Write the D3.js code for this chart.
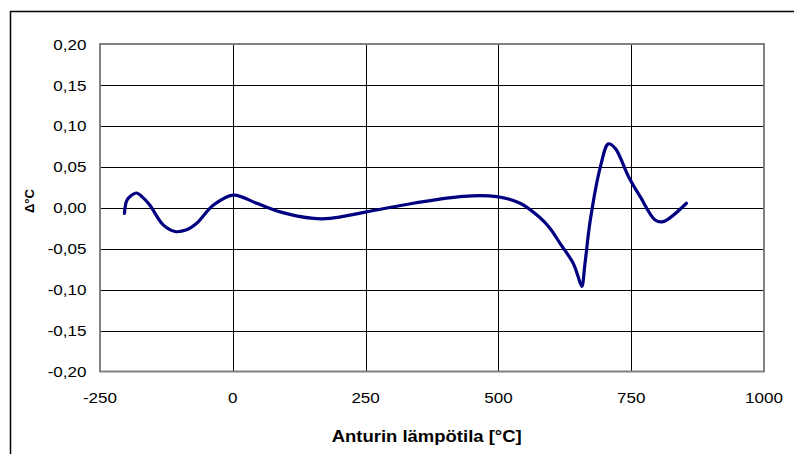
<!DOCTYPE html>
<html lang="fi">
<head>
<meta charset="UTF-8">
<title>Anturin lämpötila</title>
<style>
  body { margin: 0; background: #fff; }
  svg text { font-family: "Liberation Sans", Arial, sans-serif; fill: #000; }
  .tick-label { font-size: 15.5px; }
  .title { font-weight: bold; }
</style>
</head>
<body>
<div id="chart"></div>
<script src="https://d3js.org/d3.v7.min.js"></script>
<script>
// Curve: sensor temperature [°C] and deviation [°C]
const temps = [-204, -200, -193, -181, -170, -156, -131, -109, -87, -68, -37, 1, 45, 89,
               152, 183, 252, 340, 434, 497, 541, 578, 597, 616, 641, 650, 657, 663,
               673, 692, 707, 720, 745, 767, 795, 810, 854];
const deltas = [-0.007, 0.008, 0.014, 0.018, 0.013, 0.003, -0.021, -0.029, -0.027, -0.019,
                0.003, 0.0155, 0.0055, -0.005, -0.013, -0.013, -0.005, 0.0055, 0.014,
                0.0135, 0.0055, -0.012, -0.025, -0.0435, -0.068, -0.084, -0.096, -0.068,
                -0.015, 0.050, 0.078, 0.0725, 0.038, 0.0135, -0.015, -0.017, 0.0055];
const xTicks = [-250, 0, 250, 500, 750, 1000];
const yTicks = [0.20, 0.15, 0.10, 0.05, 0.00, -0.05, -0.10, -0.15, -0.20];

const W = 794, H = 454;
const plot = { left: 100, top: 44, right: 764, bottom: 371.5 };
const stretch = 1.1; // the original lettering is a bit wider than Arial

const svg = d3.select("#chart").append("svg")
    .attr("width", W).attr("height", H);

// outer frame
svg.append("rect")
    .attr("x", 10.5).attr("y", 11.5)
    .attr("width", W + 20).attr("height", H + 20)
    .attr("fill", "none").attr("stroke", "#000").attr("stroke-width", 1.5);

const x = d3.scaleLinear().domain([-250, 1000]).range([plot.left, plot.right]);
const y = d3.scaleLinear().domain([-0.20, 0.20]).range([plot.bottom, plot.top]);

const fmt = d => d3.format(".2f")(d).replace(".", ",").replace("−", "-");

// grid
svg.append("g").selectAll("line")
    .data(yTicks.filter(d => d > -0.2 && d < 0.2))
    .join("line")
    .attr("x1", plot.left).attr("x2", plot.right)
    .attr("y1", d => Math.round(y(d)) + 0.5).attr("y2", d => Math.round(y(d)) + 0.5)
    .attr("stroke", "#000").attr("stroke-width", 1);

svg.append("g").selectAll("line")
    .data(xTicks.filter(d => d > -250 && d < 1000))
    .join("line")
    .attr("y1", plot.top).attr("y2", plot.bottom)
    .attr("x1", d => Math.round(x(d)) + 0.5).attr("x2", d => Math.round(x(d)) + 0.5)
    .attr("stroke", "#000").attr("stroke-width", 1);

// plot border
svg.append("rect")
    .attr("x", plot.left).attr("y", plot.top)
    .attr("width", plot.right - plot.left).attr("height", plot.bottom - plot.top)
    .attr("fill", "none").attr("stroke", "#808080").attr("stroke-width", 2);

// tick labels
svg.append("g").selectAll("text")
    .data(yTicks).join("text")
    .attr("class", "tick-label")
    .attr("transform", d => `translate(86.5,${y(d)}) scale(${stretch},1)`)
    .attr("dy", "0.36em")
    .attr("text-anchor", "end")
    .text(fmt);

svg.append("g").selectAll("text")
    .data(xTicks).join("text")
    .attr("class", "tick-label")
    .attr("transform", d => `translate(${x(d)},403) scale(${stretch},1)`)
    .attr("text-anchor", "middle")
    .text(d => String(d));

// axis titles
svg.append("text").attr("class", "title")
    .attr("x", 426.7).attr("y", 441.5)
    .attr("font-size", "16px")
    .attr("text-anchor", "middle")
    .attr("textLength", 190)
    .attr("lengthAdjust", "spacingAndGlyphs")
    .text("Anturin lämpötila [°C]");

svg.append("text").attr("class", "title")
    .attr("font-size", "13px")
    .attr("transform", "translate(33.5,201) rotate(-90)")
    .attr("text-anchor", "middle")
    .text("Δ°C");

// curve
const pts = temps.map((t, i) => [t, deltas[i]]);
svg.append("path")
    .datum(pts)
    .attr("fill", "none")
    .attr("stroke", "#000080")
    .attr("stroke-width", 3.2)
    .attr("stroke-linejoin", "round")
    .attr("stroke-linecap", "round")
    .attr("d", d3.line().x(d => x(d[0])).y(d => y(d[1])).curve(d3.curveCatmullRom.alpha(0.5)));
</script>
</body>
</html>
